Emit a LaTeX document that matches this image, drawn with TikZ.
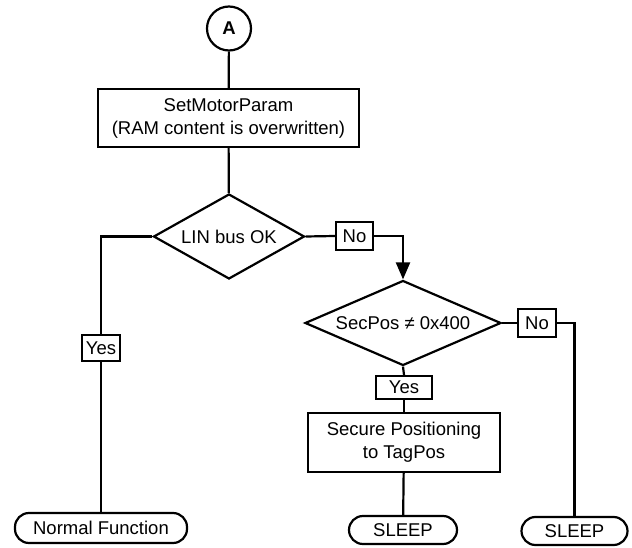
\documentclass[tikz,border=0pt]{standalone}
\usepackage{fontspec}
\setmainfont{Liberation Sans}
\usetikzlibrary{shapes.geometric,arrows.meta}
\begin{document}
\begin{tikzpicture}[x=1pt,y=-1pt,
  font=\fontsize{18.5}{23}\selectfont,
  every node/.style={inner sep=0pt, align=center},
  ln/.style={line width=2.2pt},
  procbox/.style={draw, line width=2.2pt, rectangle},
  decide/.style={draw, line width=2.2pt, diamond},
  lbl/.style={draw, line width=2.2pt, rectangle},
  term/.style={draw, line width=2.2pt, rectangle, rounded corners=14pt},
  conn/.style={draw, line width=2.2pt, circle, minimum size=44pt}]
\useasboundingbox (0,0) rectangle (632,548);
\node[conn] (A) at (229,28.5) {\textbf{A}};
\node[procbox, minimum width=261pt, minimum height=58pt] (set) at (228.5,118) {SetMotorParam\\(RAM content is overwritten)};
\node[decide, shape aspect=1.76, minimum width=151pt, minimum height=85pt] (d1) at (229,236.5) {LIN bus OK};
\node[lbl, minimum width=37pt, minimum height=28pt] (no1) at (354.5,236) {No};
\node[decide, shape aspect=2.28, minimum width=196pt, minimum height=85pt] (d2) at (403,323) {SecPos ≠ 0x400};
\node[lbl, minimum width=38pt, minimum height=28pt] (no2) at (537,323) {No};
\node[lbl, minimum width=38pt, minimum height=26pt] (yes1) at (101,348) {Yes};
\node[lbl, minimum width=56pt, minimum height=23pt] (yes2) at (404,387.5) {Yes};
\node[procbox, minimum width=192pt, minimum height=59pt] (sec) at (404,442.5) {Secure Positioning\\to TagPos};
\node[term, minimum width=172pt, minimum height=30pt] (nf) at (101,528) {Normal Function};
\node[term, minimum width=108pt, minimum height=28pt] (sl1) at (403,530) {SLEEP};
\node[term, minimum width=106pt, minimum height=28pt] (sl2) at (574.5,531) {SLEEP};
\draw[ln] (A) -- (set);
\draw[ln] (set) -- (d1);
\draw[ln] (d1.west) -| (yes1.north);
\draw[ln] (yes1) -- (nf);
\draw[ln] (d1.east) -- (no1.west);
\draw[ln, -{Triangle[length=17pt,width=14pt]}] (no1.east) -| (d2.north);
\draw[ln] (d2.east) -- (no2.west);
\draw[ln] (no2.east) -| (sl2.north);
\draw[ln] (d2.south) -- (yes2.north);
\draw[ln] (yes2) -- (sec);
\draw[ln] (sec) -- (sl1);
\end{tikzpicture}
\end{document}
